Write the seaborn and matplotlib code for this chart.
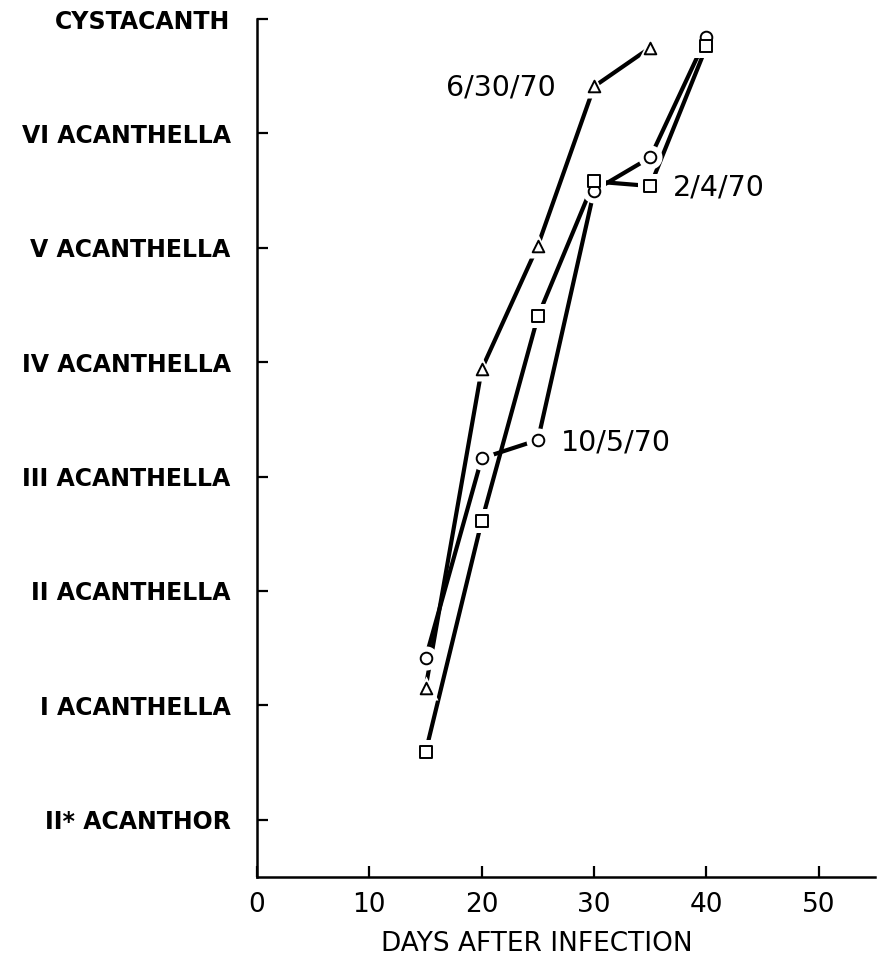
import matplotlib
matplotlib.use("Agg")
import matplotlib.pyplot as plt
import seaborn as sns
import pandas as pd

# ---- data ----
stage_labels = ["II* ACANTHOR", "I ACANTHELLA", "II ACANTHELLA", "III ACANTHELLA",
                "IV ACANTHELLA", "V ACANTHELLA", "VI ACANTHELLA", "CYSTACANTH"]
x_ticks = [0, 10, 20, 30, 40, 50]

days_jun = [15, 20, 25, 30, 35]
stage_jun = [1.15, 3.94, 5.02, 6.41, 6.75]          # 6/30/70 (triangles)

days_oct = [15, 20, 25, 30, 35, 40]
stage_oct = [1.41, 3.16, 3.32, 5.50, 5.79, 6.84]    # 10/5/70 (circles)

days_feb = [15, 20, 25, 30, 35, 40]
stage_feb = [0.59, 2.61, 4.40, 5.58, 5.54, 6.76]    # 2/4/70 (squares)

series = [
    ("6/30/70", days_jun, stage_jun, "^"),
    ("10/5/70", days_oct, stage_oct, "o"),
    ("2/4/70", days_feb, stage_feb, "s"),
]
labels_pos = {"6/30/70": (16.8, 6.40), "2/4/70": (37.0, 5.53), "10/5/70": (27.0, 3.30)}

sns.set_theme(style="white")
plt.rcParams["font.family"] = ["DejaVu Sans"]

fig = plt.figure(figsize=(8.79, 9.60), dpi=100)
ax = fig.add_axes([257 / 879, 1 - 877 / 960, 618 / 879, (877 - 19) / 960])

for name, xs, ys, mk in series:
    df = pd.DataFrame({"day": xs, "stage": ys})
    sns.lineplot(data=df, x="day", y="stage", ax=ax, color="black", lw=3.0,
                 estimator=None, sort=False, zorder=2)

for name, xs, ys, mk in series:
    df = pd.DataFrame({"day": xs, "stage": ys})
    # white halo to create gaps in the lines around markers
    sns.scatterplot(data=df, x="day", y="stage", ax=ax, marker=mk, s=300,
                    color="white", edgecolor="white", linewidth=0, zorder=3)
for name, xs, ys, mk in series:
    df = pd.DataFrame({"day": xs, "stage": ys})
    sns.scatterplot(data=df, x="day", y="stage", ax=ax, marker=mk, s=70,
                    facecolor="white", edgecolor="black", linewidth=1.4, zorder=4)

for name, (lx, ly) in labels_pos.items():
    ax.text(lx, ly, name, fontsize=20.5, va="center", ha="left", color="black")

ax.set_xlim(0, 55)
ax.set_ylim(-0.5, 7)
ax.set_xticks(x_ticks)
ax.set_xticklabels([str(v) for v in x_ticks], fontsize=19)
ax.set_yticks(range(len(stage_labels)))
ax.set_yticklabels(stage_labels, fontsize=17, fontweight="bold")
ax.tick_params(axis="both", direction="in", length=8, width=1.6, color="black",
               labelcolor="black", bottom=True, left=True)
ax.tick_params(axis="y", pad=19)
ax.tick_params(axis="x", pad=11)
ax.set_xlabel("DAYS AFTER INFECTION", fontsize=19, color="black")
ax.set_ylabel("")
ax.xaxis.set_label_coords((537 - 257) / 618, -0.063)

for side in ["top", "right"]:
    ax.spines[side].set_visible(False)
for side in ["left", "bottom"]:
    ax.spines[side].set_color("black")
    ax.spines[side].set_linewidth(1.8)
ax.grid(False)
ax.set_facecolor("white")
fig.patch.set_facecolor("white")

fig.savefig("out.png", dpi=100, facecolor="white")
